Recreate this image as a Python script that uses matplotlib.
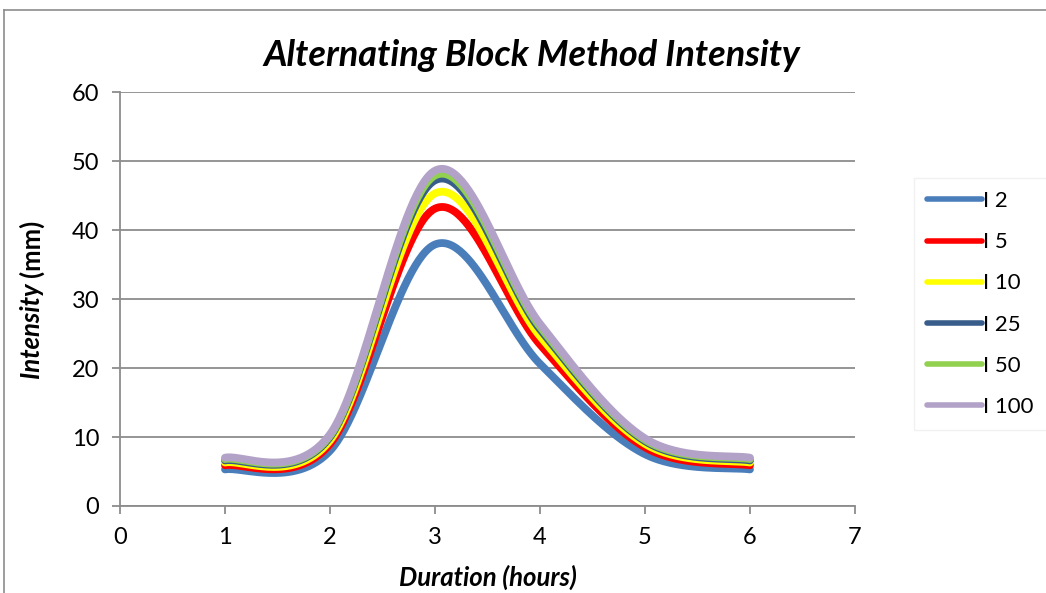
"""Alternating block method intensity, Excel-style smoothed lines."""

import matplotlib.pyplot as plt
import numpy as np
from matplotlib.lines import Line2D

plt.rcParams["font.family"] = ["Lato", "DejaVu Sans"]

duration = [1, 2, 3, 4, 5, 6]
i2 = [5.3, 8.0, 37.9, 20.6, 7.5, 5.3]
i5 = [5.9, 9.0, 43.1, 23.4, 8.5, 5.9]
i10 = [6.3, 9.5, 45.3, 24.6, 9.0, 6.3]
i25 = [6.6, 10.0, 47.2, 25.6, 9.4, 6.6]
i50 = [6.8, 10.2, 47.9, 26.0, 9.6, 6.8]
i100 = [7.0, 10.4, 48.6, 26.4, 9.8, 7.0]

labels = ["I 2", "I 5", "I 10", "I 25", "I 50", "I 100"]
series = [i2, i5, i10, i25, i50, i100]
colors = ["#4A7EBB", "#FF0000", "#FFFF00", "#385D8A", "#92D050", "#B3A2C7"]


def smooth(x, y, n=60):
    # cubic Bezier through the points, like Excel's "smoothed line"
    p = np.column_stack([x, y]).astype(float)
    pts = []
    for i in range(len(p) - 1):
        p0 = p[max(i - 1, 0)]
        p3 = p[min(i + 2, len(p) - 1)]
        c1 = p[i] + (p[i + 1] - p0) / 6
        c2 = p[i + 1] - (p3 - p[i]) / 6
        t = np.linspace(0, 1, n)[:, None]
        seg = ((1 - t) ** 3 * p[i] + 3 * (1 - t) ** 2 * t * c1
               + 3 * (1 - t) * t ** 2 * c2 + t ** 3 * p[i + 1])
        pts.append(seg if i == 0 else seg[1:])
    pts = np.vstack(pts)
    return pts[:, 0], pts[:, 1]


fig = plt.figure(figsize=(10.46, 5.93), dpi=100)
ax = fig.add_axes([120 / 1046, 1 - 506 / 593, 735 / 1046, 414 / 593])

# chart area border (cut at right and bottom)
fig.add_artist(Line2D([4 / 1046, 1], [1 - 10 / 593] * 2, color="#8C8C8C", lw=1.2))
fig.add_artist(Line2D([4 / 1046] * 2, [0, 1 - 10 / 593], color="#8C8C8C", lw=1.2))

handles = []
for y, lab, c in zip(series, labels, colors):
    xs, ys = smooth(duration, y)
    ax.plot(xs, ys, color=c, lw=5.6, solid_capstyle="round")
    handles.append(Line2D([], [], color=c, lw=4, solid_capstyle="round", label=lab))

ax.set_xlim(0, 7)
ax.set_ylim(0, 60)
ax.set_xticks(range(0, 8))
ax.set_yticks(range(0, 61, 10))
ax.yaxis.grid(True, color="#8C8C8C", lw=1.3)
ax.set_axisbelow(True)
for s in ["top", "right"]:
    ax.spines[s].set_visible(False)
for s in ["left", "bottom"]:
    ax.spines[s].set_color("#8C8C8C")
    ax.spines[s].set_linewidth(1.3)
ax.tick_params(direction="out", length=6, width=1.3, color="#8C8C8C",
               labelsize=17, pad=9)

fig.text(532 / 1046, 1 - 56 / 593, "Alternating Block Method Intensity",
         fontsize=26, fontweight="bold", style="italic", ha="center", va="center")
fig.text(488 / 1046, 1 - 577 / 593, "Duration (hours)", fontsize=18.5,
         fontweight="bold", style="italic", ha="center", va="center")

# y label: "Intensity" italic, "(mm)" upright
yl1 = fig.text(0, 0, "Intensity", rotation=90, fontsize=18.5,
               fontweight="bold", style="italic", ha="center", va="bottom")
yl2 = fig.text(0, 0, "(mm)", rotation=90, fontsize=18.5,
               fontweight="bold", ha="center", va="bottom")
fig.canvas.draw()
h1 = yl1.get_window_extent().height
h2 = yl2.get_window_extent().height
gap = 5
y0 = 593 - 299 - (h1 + gap + h2) / 2
yl1.set_position((31 / 1046, y0 / 593))
yl2.set_position((31 / 1046, (y0 + h1 + gap) / 593))

leg = ax.legend(handles=handles, loc="center left", bbox_to_anchor=(1.065, 0.488),
                frameon=True, fontsize=16, handlelength=2.45, labelspacing=0.95,
                handletextpad=0.05, borderpad=0.6, fancybox=False)
leg.get_frame().set_edgecolor("#EEEEEE")

fig.savefig("out.png", dpi=100)
